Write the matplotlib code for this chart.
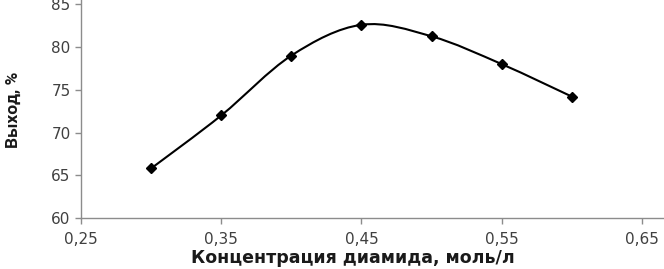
import matplotlib
matplotlib.use("Agg")
import matplotlib.pyplot as plt
from matplotlib.path import Path
from matplotlib.patches import PathPatch
import numpy as np

# данные
conc = [0.30, 0.35, 0.40, 0.45, 0.50, 0.55, 0.60]
yield_pct = [65.8, 72.0, 79.0, 82.6, 81.25, 78.0, 74.2]
x_ticks = [0.25, 0.35, 0.45, 0.55, 0.65]
x_tick_labels = ["0,25", "0,35", "0,45", "0,55", "0,65"]
y_ticks = [60, 65, 70, 75, 80, 85]


def smooth_path(xs, ys, t=1 / 6):
    # сглаженная линия как в Excel (кубические Безье)
    xs = np.asarray(xs, float)
    ys = np.asarray(ys, float)
    n = len(xs)
    verts = [(xs[0], ys[0])]
    codes = [Path.MOVETO]
    for i in range(n - 1):
        p0 = (xs[max(i - 1, 0)], ys[max(i - 1, 0)])
        p1 = (xs[i], ys[i])
        p2 = (xs[i + 1], ys[i + 1])
        p3 = (xs[min(i + 2, n - 1)], ys[min(i + 2, n - 1)])
        c1 = (p1[0] + (p2[0] - p0[0]) * t, p1[1] + (p2[1] - p0[1]) * t)
        c2 = (p2[0] - (p3[0] - p1[0]) * t, p2[1] - (p3[1] - p1[1]) * t)
        verts += [c1, c2, p2]
        codes += [Path.CURVE4] * 3
    return Path(verts, codes)


fig = plt.figure(figsize=(6.64, 2.69), dpi=100)
ax = fig.add_axes([81 / 664, 1 - 218 / 269, 582 / 664, 218 / 269])

ax.add_patch(PathPatch(smooth_path(conc, yield_pct), fill=False,
                       edgecolor="black", linewidth=1.5))
ax.plot(conc, yield_pct, linestyle="none", marker="D", markersize=5,
        color="black")

ax.set_xlim(0.25, 0.665)
ax.set_ylim(60, 85.5)
ax.set_xticks(x_ticks)
ax.set_xticklabels(x_tick_labels)
ax.set_yticks(y_ticks)

for side in ["top", "right"]:
    ax.spines[side].set_visible(False)
for side in ["left", "bottom"]:
    ax.spines[side].set_color("#8c8c8c")
    ax.spines[side].set_linewidth(1.0)

ax.tick_params(axis="both", direction="out", length=4, width=1,
               color="#8c8c8c", labelsize=11, labelcolor="#404040")
ax.tick_params(axis="x", pad=6)

fig.text(353 / 664, 1 - 258 / 269, "Концентрация диамида, моль/л",
         fontsize=12.5, fontweight="bold", color="#1a1a1a",
         ha="center", va="center")
fig.text(13 / 664, 1 - 110 / 269, "Выход, %", rotation=90,
         fontsize=12.5, fontweight="bold",
         family=["Roboto", "DejaVu Sans"],
         color="#1a1a1a", ha="center", va="center")

fig.savefig("out.png", dpi=100)
plt.close(fig)
